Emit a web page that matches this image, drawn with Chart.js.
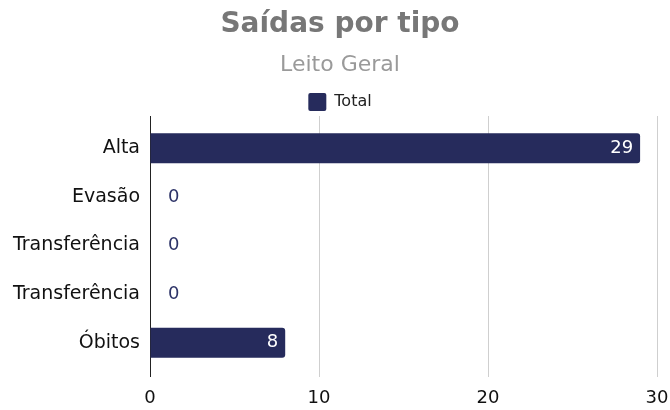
<!DOCTYPE html>
<html lang="pt">
<head>
  <meta charset="utf-8">
  <title>Saídas por tipo</title>
  <style>
    * { margin: 0; padding: 0; }
    body { background: #fff; }
    #wrap { width: 670px; height: 410px; }
  </style>
</head>
<body>
  <div id="wrap"><canvas id="chart"></canvas></div>

  <script src="https://cdn.jsdelivr.net/npm/chart.js@4.4.1/dist/chart.umd.min.js"></script>
  <script>
    // data
    const categories = ['Alta', 'Evasão', 'Transferência', 'Transferência', 'Óbitos'];
    const totals = [29, 0, 0, 0, 8];
    const xMin = 0;
    const xMax = 30;
    const xStep = 10;

    const navy = '#262b5c';
    const gridColor = ctx => ctx.index === 0 ? '#222' : '#cfcfcf';

    Chart.defaults.font.family = "'DejaVu Sans', Verdana, sans-serif";

    // value labels: inside the bar end when there is room, after it otherwise
    const barLabels = {
      id: 'barLabels',
      afterDatasetsDraw(chart) {
        const ctx = chart.ctx;
        const meta = chart.getDatasetMeta(0);
        ctx.save();
        ctx.font = "18px 'DejaVu Sans'";
        ctx.textBaseline = 'middle';
        meta.data.forEach((bar, i) => {
          const v = chart.data.datasets[0].data[i];
          if (bar.x - bar.base > 40) {
            ctx.fillStyle = '#fff';
            ctx.textAlign = 'right';
            ctx.fillText(v, bar.x - 7, bar.y);
          } else {
            ctx.fillStyle = '#2e3468';
            ctx.textAlign = 'left';
            ctx.fillText(v, bar.x + 18, bar.y);
          }
        });
        ctx.restore();
      }
    };

    new Chart(document.getElementById('chart'), {
      type: 'bar',
      data: {
        labels: categories,
        datasets: [{
          label: 'Total',
          data: totals,
          backgroundColor: navy,
          borderRadius: 3,
          categoryPercentage: 1,
          barPercentage: 0.62
        }]
      },
      options: {
        indexAxis: 'y',
        responsive: true,
        maintainAspectRatio: false,
        animation: false,
        layout: { padding: { left: 10, right: 0, top: 0, bottom: 0 } },
        plugins: {
          title: {
            display: true,
            text: 'Saídas por tipo',
            color: '#777',
            font: { size: 28, weight: 'bold' },
            padding: { top: 8, bottom: 10 }
          },
          subtitle: {
            display: true,
            text: 'Leito Geral',
            color: '#9a9a9a',
            font: { size: 22 },
            padding: { top: 0, bottom: 9 }
          },
          legend: {
            labels: {
              color: '#222',
              font: { size: 16 },
              boxWidth: 18,
              boxHeight: 18,
              padding: 6,
              useBorderRadius: true,
              borderRadius: 2
            }
          },
          tooltip: { enabled: false }
        },
        scales: {
          x: {
            min: xMin,
            max: xMax,
            ticks: { stepSize: xStep, color: '#111', font: { size: 18 }, padding: 11 },
            grid: { color: gridColor, tickLength: 10 },
            border: { display: false },
            afterFit: s => { s.height = 43; s.paddingRight = 13; }
          },
          x2: {
            position: 'top',
            min: xMin,
            max: xMax,
            ticks: { stepSize: xStep, display: false },
            grid: { color: gridColor, tickLength: 8, drawOnChartArea: false },
            border: { display: false },
            afterFit: s => { s.height = 3; }
          },
          y: {
            ticks: { color: '#111', font: { size: 19 }, padding: 10 },
            grid: { display: false, drawTicks: false },
            border: { display: false },
            afterFit: s => { s.width = 140; }
          }
        }
      },
      plugins: [barLabels]
    });
  </script>
</body>
</html>
